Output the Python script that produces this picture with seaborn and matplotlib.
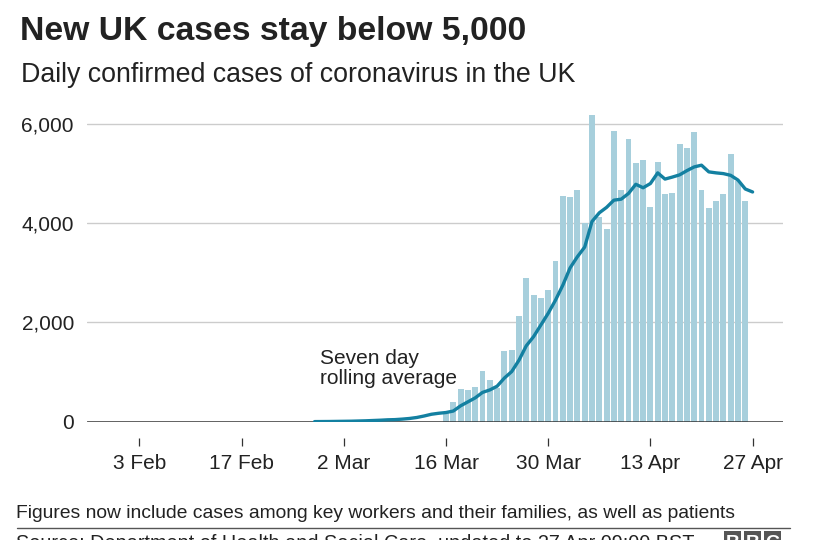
import numpy as np
import pandas as pd
import matplotlib
matplotlib.use("Agg")
import matplotlib.pyplot as plt
import seaborn as sns
from matplotlib.lines import Line2D
from matplotlib.patches import Rectangle

# ---------------- data ----------------
bar_dates = pd.date_range("2020-03-16", "2020-04-26", freq="D")
daily_cases = [180, 403, 658, 638, 705, 1021, 840, 680, 1424, 1444,
               2129, 2888, 2552, 2498, 2653, 3237,
               4552, 4520, 4667, 3996, 6191, 4129, 3881, 5855, 4667, 5700,
               5224, 5277, 4331, 5244, 4593, 4606, 5593, 5519, 5841, 4673,
               4298, 4445, 4580, 5386, 4860, 4451]

avg_dates = pd.date_range("2020-02-27", "2020-04-27", freq="D")
rolling_avg = [2, 3, 4, 6, 8, 10, 14, 18, 24, 30, 38, 42, 52, 65, 85, 115, 150, 170, 185,
               215, 320, 400, 480, 590, 640, 715, 880, 1010, 1240, 1530, 1715, 1950, 2185, 2450,
               2750, 3100, 3325, 3520, 4035, 4210, 4320, 4465, 4485, 4600, 4785, 4715, 4800,
               5015, 4890, 4930, 4975, 5060, 5135, 5170, 5035, 5015, 5000, 4965, 4870, 4690, 4630]

tick_dates = ["2020-02-03", "2020-02-17", "2020-03-02", "2020-03-16",
              "2020-03-30", "2020-04-13", "2020-04-27"]
tick_labels = ["3 Feb", "17 Feb", "2 Mar", "16 Mar", "30 Mar", "13 Apr", "27 Apr"]
y_ticks = [0, 2000, 4000, 6000]
y_labels = ["0", "2,000", "4,000", "6,000"]

title = "New UK cases stay below 5,000"
subtitle = "Daily confirmed cases of coronavirus in the UK"
note = "Figures now include cases among key workers and their families, as well as patients"
source = "Source: Department of Health and Social Care, updated to 27 Apr 09:00 BST"

# ---------------- style ----------------
sns.set_theme(style="white")
plt.rcParams["font.family"] = ["Liberation Sans", "DejaVu Sans"]

BAR = "#a7cfdc"
LINE = "#1380a1"
TXT = "#222222"

origin = pd.Timestamp("2020-01-01")
bar_x = np.asarray((bar_dates - origin).days, dtype=float)
avg_x = np.asarray((avg_dates - origin).days, dtype=float)
tick_x = np.asarray((pd.to_datetime(tick_dates) - origin).days, dtype=float)

W, H = 830, 540
fig = plt.figure(figsize=(W / 100, H / 100), dpi=100)
fig.patch.set_facecolor("white")

ax_left, ax_right = 87, 783
ax_top, ax_bottom = 100, 421.7
ax = fig.add_axes([ax_left / W, 1 - ax_bottom / H,
                   (ax_right - ax_left) / W, (ax_bottom - ax_top) / H])
ax.set_facecolor("white")

# gridlines
for v in y_ticks[1:]:
    ax.axhline(v, color="#cccccc", lw=1.0, zorder=0)

sns.barplot(x=bar_x, y=daily_cases, native_scale=True, color=BAR, saturation=1,
            width=0.82, linewidth=0, ax=ax, zorder=2)
sns.lineplot(x=avg_x, y=rolling_avg, color=LINE, linewidth=2.4, ax=ax, zorder=4,
             solid_capstyle="round", solid_joinstyle="round")
ax.axhline(0, color="#333333", lw=1.8, zorder=3)

# limits: 16 Mar at px 446, 7.3 px per day
d16 = (pd.Timestamp("2020-03-16") - origin).days
ax.set_xlim(d16 + (ax_left - 446) / 7.3, d16 + (ax_right - 446) / 7.3)
ymax = 6000 * (ax_bottom - ax_top) / (ax_bottom - 124)
ax.set_ylim(0, ymax)

ax.set_yticks(y_ticks)
ax.set_yticklabels(y_labels)
ax.set_xticks(tick_x)
ax.set_xticklabels(tick_labels)
ax.tick_params(axis="y", length=0, pad=9.4, labelsize=15, labelcolor=TXT)
ax.tick_params(axis="x", length=5.5, width=0.9, color="#333333", direction="out",
               pad=6.0, labelsize=15, labelcolor=TXT, bottom=True)
for s in ["left", "right", "top"]:
    ax.spines[s].set_visible(False)
ax.spines["bottom"].set_position(("outward", 12))
ax.spines["bottom"].set_visible(False)
ax.set_xlabel("")
ax.set_ylabel("")
ax.grid(False)

# annotation
fig.text(319.5 / W, 1 - 363.5 / H, "Seven day", fontsize=15, color=TXT, va="baseline", ha="left")
fig.text(319.5 / W, 1 - 384 / H, "rolling average", fontsize=15, color=TXT, va="baseline", ha="left")

# titles
fig.text(20 / W, 1 - 40 / H, title, fontsize=24.3, fontweight="bold", color=TXT,
         va="baseline", ha="left")
fig.text(21 / W, 1 - 82 / H, subtitle, fontsize=19.3, color=TXT, va="baseline", ha="left")

# footer
fig.text(16 / W, 1 - 518 / H, note, fontsize=13.85, color=TXT, va="baseline", ha="left")
fig.add_artist(Line2D([17 / W, 790 / W], [1 - 528.3 / H, 1 - 528.3 / H],
                      transform=fig.transFigure, color="#555555", lw=1.0))
fig.text(16 / W, 1 - 549 / H, source, fontsize=14.3, color=TXT, va="baseline", ha="left")
for i, letter in enumerate("BBC"):
    x0 = 724 + i * 20
    fig.add_artist(Rectangle((x0 / W, 1 - 552 / H), 17 / W, 21 / H,
                             transform=fig.transFigure, color="#555555", lw=0))
    fig.text((x0 + 8.5) / W, 1 - 548 / H, letter, fontsize=14, fontweight="bold",
             color="white", ha="center", va="baseline")

fig.savefig("out.png", dpi=100, facecolor="white")
